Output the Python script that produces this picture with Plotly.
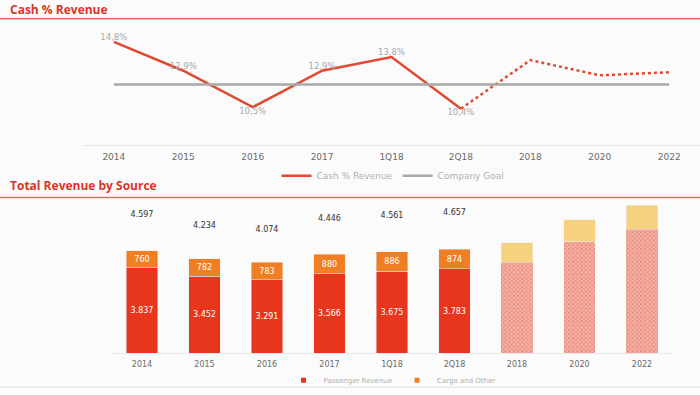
import plotly.graph_objects as go

# ---- data ----
line_cats = ["2014", "2015", "2016", "2017", "1Q18", "2Q18", "2018", "2020", "2022"]
cash_actual = [14.8, 12.9, 10.5, 12.9, 13.8, 10.4, None, None, None]
cash_forecast = [None, None, None, None, None, 10.4, 13.6, 12.6, 12.8]
company_goal = [12.0] * 9

bar_cats = ["2014", "2015", "2016", "2017", "1Q18", "2Q18", "2018", "2020", "2022"]
passenger = [3837, 3452, 3291, 3566, 3675, 3783, None, None, None]
cargo = [760, 782, 783, 880, 886, 874, None, None, None]
passenger_fc = [None, None, None, None, None, None, 4085, 4995, 5570]
cargo_fc = [None, None, None, None, None, None, 865, 990, 1075]
totals = [4597, 4234, 4074, 4446, 4561, 4657]

RED = "#e8361c"
ORANGE = "#ef7f22"
LINE_RED = "#df4a30"
TITLE_RED = "#d8352a"
LABEL_FONT = "DejaVu Sans"

def pct(v):
    return "" if v is None else f"{v:.1f}%".replace(".", ",")

def thou(v):
    return "" if v is None else f"{v:,}".replace(",", ".")

W = 700
H = 395
def px(x):
    return x / W
def py(y):
    return 1 - y / H

fig = go.Figure()

# ---- top chart ----
fig.add_trace(go.Scatter(
    x=line_cats, y=cash_actual, mode="lines+text", name="Cash % Revenue",
    line=dict(color=LINE_RED, width=2.5),
    text=[pct(v) for v in cash_actual],
    textposition=["top center", "top center", "bottom center", "top center",
                  "top center", "bottom center", "top center", "top center", "top center"],
    textfont=dict(color="#a8a8a8", size=8.5, family=LABEL_FONT),
    xaxis="x", yaxis="y", legend="legend", cliponaxis=False,
))
fig.add_trace(go.Scatter(
    x=line_cats, y=cash_forecast, mode="lines", showlegend=False,
    line=dict(color=LINE_RED, width=2.5, dash="dot"),
    xaxis="x", yaxis="y",
))
fig.add_trace(go.Scatter(
    x=line_cats, y=company_goal, mode="lines", name="Company Goal",
    line=dict(color="#a9a9a9", width=2.5),
    xaxis="x", yaxis="y", legend="legend",
))

# ---- bottom chart ----
fig.add_trace(go.Bar(
    x=bar_cats, y=passenger, name="Passenger Revenue", marker_color=RED, showlegend=False,
    text=[thou(v) for v in passenger], textposition="inside", insidetextanchor="middle",
    constraintext="none",
    textfont=dict(color="white", size=8, family=LABEL_FONT),
    xaxis="x2", yaxis="y2",
))
fig.add_trace(go.Bar(
    x=bar_cats, y=passenger_fc, showlegend=False,
    marker=dict(color="#eea293", line=dict(width=0),
                pattern=dict(shape="x", fgcolor="#e2513c", bgcolor="#f2b4a7", size=3, solidity=0.45)),
    xaxis="x2", yaxis="y2",
))
fig.add_trace(go.Bar(
    x=bar_cats, y=cargo, name="Cargo and Other", marker_color=ORANGE, showlegend=False,
    text=[thou(v) for v in cargo], textposition="inside", insidetextanchor="middle",
    constraintext="none",
    textfont=dict(color="white", size=8, family=LABEL_FONT),
    xaxis="x2", yaxis="y2",
))
fig.add_trace(go.Bar(
    x=bar_cats, y=cargo_fc, showlegend=False,
    marker_color="#f7d27e",
    xaxis="x2", yaxis="y2",
))
fig.add_trace(go.Scatter(
    x=bar_cats[:len(totals)], y=totals, mode="text", showlegend=False,
    text=[thou(v) for v in totals], textposition="middle center",
    textfont=dict(color="#333333", size=8, family=LABEL_FONT),
    xaxis="x2", yaxis="y3",
))
# small square legend markers for the bar chart
fig.add_trace(go.Scatter(
    x=[None], y=[None], mode="markers", name="Passenger Revenue",
    marker=dict(symbol="square", size=5, color=RED),
    xaxis="x2", yaxis="y2", legend="legend2",
))
fig.add_trace(go.Scatter(
    x=[None], y=[None], mode="markers", name="Cargo and Other",
    marker=dict(symbol="square", size=5, color=ORANGE),
    xaxis="x2", yaxis="y2", legend="legend2",
))

fig.update_layout(
    width=W, height=H,
    margin=dict(l=0, r=0, t=0, b=0),
    paper_bgcolor="#fbfbfb", plot_bgcolor="#fbfbfb",
    font=dict(family=LABEL_FONT, color="#777777"),
    barmode="stack", bargap=0.49,
    xaxis=dict(domain=[px(83), 1.0], type="category", showgrid=False,
               showline=True, linecolor="#e8e8e8", linewidth=1, ticklabelstandoff=3,
               tickfont=dict(size=9, color="#6a6a6a", family=LABEL_FONT), ticks="", anchor="y"),
    yaxis=dict(domain=[py(147), py(24)], range=[8, 16], visible=False, anchor="x"),
    xaxis2=dict(domain=[px(110.75), px(673.25)], type="category", showgrid=False,
                showline=True, linecolor="#e8e8e8", linewidth=1, ticklabelstandoff=3,
                tickfont=dict(size=8, color="#6a6a6a", family=LABEL_FONT), ticks="", anchor="y2"),
    yaxis2=dict(domain=[py(358), py(205)], range=[0, 6764], visible=False, anchor="x2"),
    yaxis3=dict(domain=[py(358), py(205)], range=[0, 5000], visible=False,
                overlaying="y2", anchor="x2"),
    legend=dict(orientation="h", x=px(393), xanchor="center", y=py(178), yanchor="middle",
                font=dict(size=9, color="#b0b0b0", family=LABEL_FONT), bgcolor="rgba(0,0,0,0)",
                traceorder="normal", itemwidth=30),
    legend2=dict(orientation="h", x=px(392), xanchor="center", y=py(385), yanchor="middle",
                 font=dict(size=7, color="#b0b0b0", family=LABEL_FONT), bgcolor="rgba(0,0,0,0)",
                 traceorder="normal", itemwidth=30),
    showlegend=True,
)

fig.add_annotation(text="<b>Cash % Revenue</b>", x=px(8), y=py(10), xref="paper", yref="paper",
                   xanchor="left", yanchor="middle", showarrow=False,
                   font=dict(size=12, color=TITLE_RED, family="Open Sans"))
fig.add_annotation(text="<b>Total Revenue by Source</b>", x=px(8), y=py(188), xref="paper", yref="paper",
                   xanchor="left", yanchor="middle", showarrow=False,
                   font=dict(size=12, color=TITLE_RED, family="Open Sans"))
for yy in (19, 200):
    fig.add_shape(type="line", xref="paper", yref="paper", x0=0, x1=1, y0=py(yy), y1=py(yy),
                  line=dict(color="#e8675a", width=1.5))
fig.add_shape(type="line", xref="paper", yref="paper", x0=0, x1=1, y0=py(392), y1=py(392),
              line=dict(color="#e2e2e2", width=1))

# make the page exactly the figure size (no default body margin)
page_css = ("var s=document.createElement('style');"
            "s.innerHTML='html,body{margin:0;padding:0;width:700px;height:395px;overflow:hidden}"
            " .plotly-graph-div{display:block}';"
            "document.head.appendChild(s);")
fig.write_html("out.html", config={"displayModeBar": False}, post_script=page_css)
